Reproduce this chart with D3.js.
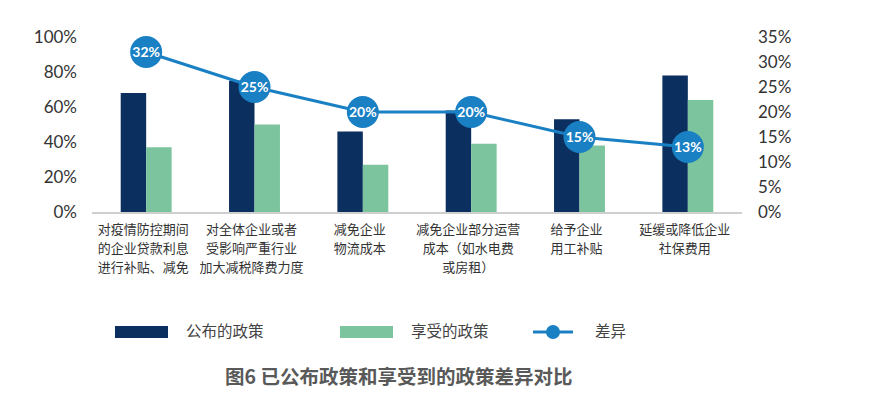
<!DOCTYPE html>
<html>
<head>
<meta charset="utf-8">
<script src="https://cdn.jsdelivr.net/npm/d3@7"></script>
<style>
  body { margin: 0; background: #fff; }
  svg { display: block; }
</style>
</head>
<body>
<svg id="chart" width="871" height="398"></svg>
<script>
// categories, each split into the lines shown under the axis
const categories = [
    ["对疫情防控期间", "的企业贷款利息", "进行补贴、减免"],
    ["对全体企业或者", "受影响严重行业", "加大减税降费力度"],
    ["减免企业", "物流成本"],
    ["减免企业部分运营", "成本（如水电费", "或房租）"],
    ["给予企业", "用工补贴"],
    ["延缓或降低企业", "社保费用"]
];
const announced = [68, 75, 46, 58, 53, 78];   // 公布的政策 (%)
const enjoyed = [37, 50, 27, 39, 38, 64];     // 享受的政策 (%)
const gap = [32, 25, 20, 20, 15, 13];         // 差异 (%)
const leftTicks = [0, 20, 40, 60, 80, 100];
const rightTicks = [0, 5, 10, 15, 20, 25, 30, 35];

const seriesNames = ["公布的政策", "享受的政策"];
const colors = { "公布的政策": "#0b2f5f", "享受的政策": "#7cc49d", "差异": "#1a80c4" };

const svg = d3.select("#chart");
const cjk = "'Noto Sans CJK SC', sans-serif";
const latin = "Lato, 'Noto Sans', sans-serif";

// scales
let x0 = d3.scaleBand().domain(d3.range(categories.length)).range([92, 742])
    .paddingInner(0.53).paddingOuter(0.265);
let x1 = d3.scaleBand().domain(seriesNames).range([0, x0.bandwidth()]);
let yLeft = d3.scaleLinear().domain([0, 100]).range([212, 37]);
let yRight = d3.scaleLinear().domain([0, 35]).range([212, 37]);

// bars
let rows = announced.map((v, i) => ({ i: i, values: [announced[i], enjoyed[i]] }));
let groups = svg.append("g").selectAll("g")
    .data(rows)
    .enter().append("g")
    .attr("transform", (d) => "translate(" + x0(d.i) + ",0)");

groups.selectAll("rect")
    .data((d) => d.values.map((v, k) => ({ key: seriesNames[k], value: v })))
    .enter().append("rect")
    .attr("x", (d) => x1(d.key))
    .attr("width", x1.bandwidth())
    .attr("y", (d) => yLeft(d.value))
    .attr("height", (d) => yLeft(0) - yLeft(d.value))
    .attr("fill", (d) => colors[d.key]);

// baseline
svg.append("line")
    .attr("x1", 92).attr("x2", 742)
    .attr("y1", yLeft(0) + 1).attr("y2", yLeft(0) + 1)
    .attr("stroke", "#cfcfcf").attr("stroke-width", 2);

// left axis
let leftAxis = d3.axisLeft(yLeft).tickValues(leftTicks).tickSize(0).tickPadding(0)
    .tickFormat((d) => d + "%");
svg.append("g").attr("transform", "translate(77,0)").call(leftAxis)
    .call((g) => g.select(".domain").remove())
    .selectAll("text")
    .attr("font-family", latin).attr("font-size", 17).attr("fill", "#333");

// right axis
let rightAxis = d3.axisRight(yRight).tickValues(rightTicks).tickSize(0).tickPadding(0)
    .tickFormat((d) => d + "%");
svg.append("g").attr("transform", "translate(758,0)").call(rightAxis)
    .call((g) => g.select(".domain").remove())
    .selectAll("text")
    .attr("font-family", latin).attr("font-size", 17).attr("fill", "#333");

// category labels, one text per line
let catGroups = svg.append("g").selectAll("g")
    .data(categories)
    .enter().append("g")
    .attr("transform", (d, i) => "translate(" + (x0(i) + x0.bandwidth() / 2 - 3) + ",234)");
catGroups.selectAll("text")
    .data((d) => d)
    .enter().append("text")
    .attr("y", (d, k) => k * 19)
    .attr("text-anchor", "middle")
    .attr("font-family", cjk).attr("font-size", 13).attr("fill", "#333")
    .text((d) => d);

// gap line
let lineGen = d3.line()
    .x((d, i) => x0(i) + x0.bandwidth() / 2)
    .y((d) => yRight(d));
svg.append("path")
    .datum(gap)
    .attr("d", lineGen)
    .attr("fill", "none")
    .attr("stroke", colors["差异"]).attr("stroke-width", 3);

let dots = svg.append("g").selectAll("g")
    .data(gap)
    .enter().append("g")
    .attr("transform", (d, i) => "translate(" + (x0(i) + x0.bandwidth() / 2) + "," + yRight(d) + ")");
dots.append("circle").attr("r", 16).attr("fill", colors["差异"]);
dots.append("text")
    .attr("text-anchor", "middle").attr("dy", "0.36em")
    .attr("font-family", latin).attr("font-weight", "bold").attr("font-size", 14)
    .attr("fill", "#fff")
    .text((d) => d + "%");

// legend
let legend = svg.append("g").attr("transform", "translate(0,332)");
legend.append("rect").attr("x", 115).attr("y", -6).attr("width", 53).attr("height", 12)
    .attr("fill", colors["公布的政策"]);
legend.append("text").attr("x", 186).attr("dy", "0.35em").text("公布的政策");
legend.append("rect").attr("x", 340).attr("y", -6).attr("width", 53).attr("height", 12)
    .attr("fill", colors["享受的政策"]);
legend.append("text").attr("x", 411).attr("dy", "0.35em").text("享受的政策");
legend.append("line").attr("x1", 533).attr("x2", 573)
    .attr("stroke", colors["差异"]).attr("stroke-width", 3);
legend.append("circle").attr("cx", 553).attr("r", 7).attr("fill", colors["差异"]);
legend.append("text").attr("x", 595).attr("dy", "0.35em").text("差异");
legend.selectAll("text")
    .attr("font-family", cjk).attr("font-size", 15.5).attr("fill", "#444");

// title
svg.append("text")
    .attr("x", 225).attr("y", 377).attr("dy", "0.35em")
    .attr("font-family", cjk).attr("font-weight", "bold").attr("font-size", 19.5)
    .attr("fill", "#595959")
    .text("图6 已公布政策和享受到的政策差异对比");
</script>
</body>
</html>
